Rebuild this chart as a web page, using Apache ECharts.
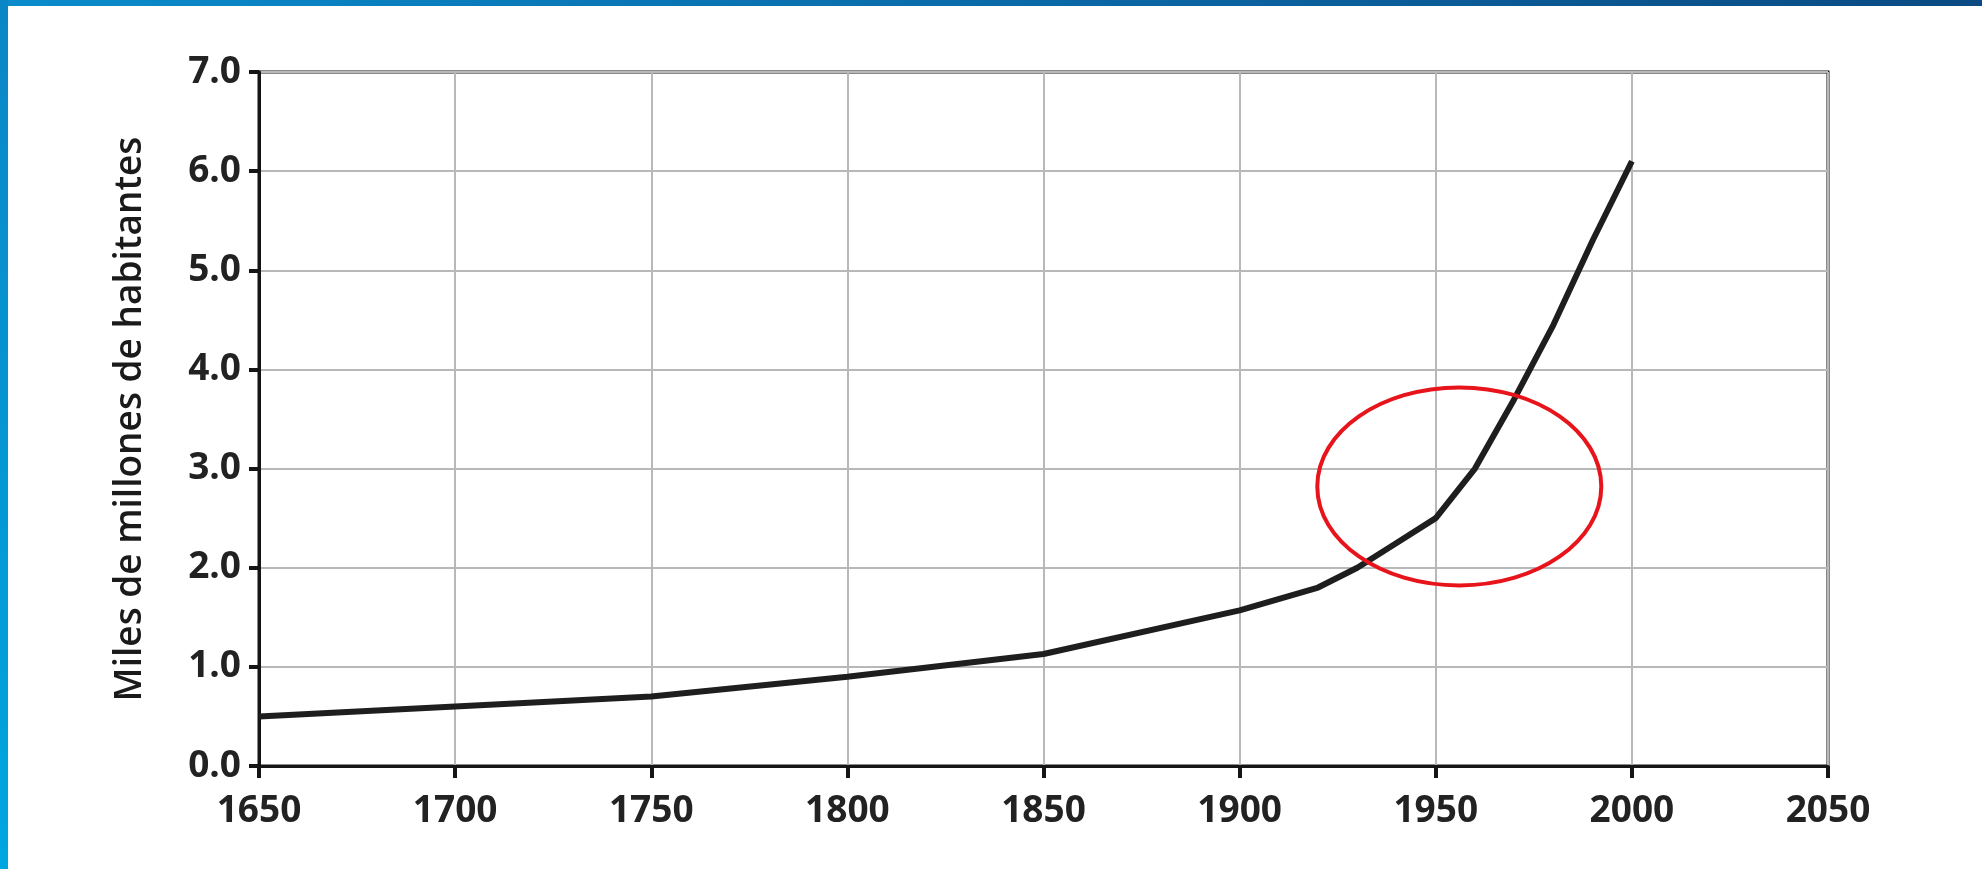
<!DOCTYPE html>
<html>
<head>
<meta charset="utf-8">
<script src="https://cdn.jsdelivr.net/npm/echarts@6/dist/echarts.min.js"></script>
<style>
html,body{margin:0;padding:0;background:#fff;}
#frameTop{position:absolute;left:0;top:0;width:1982px;height:6px;background:linear-gradient(90deg,#0a8ccc,#0a6aa8 50%,#0b4a82);}
#frameLeft{position:absolute;left:0;top:0;width:8px;height:869px;background:linear-gradient(180deg,#0a86c6,#00a6e0);}
#chart{position:absolute;left:0;top:0;width:1982px;height:869px;}
</style>
</head>
<body>
<div id="chart"></div>
<div id="frameTop"></div>
<div id="frameLeft"></div>
<script>
// Data
const years = [1650, 1700, 1750, 1800, 1850, 1900, 1920, 1930, 1940, 1950, 1960, 1970, 1980, 1990, 2000];
const population = [0.5, 0.6, 0.7, 0.9, 1.13, 1.57, 1.8, 2.0, 2.25, 2.5, 3.0, 3.7, 4.45, 5.3, 6.1];
const yAxisName = 'Miles de millones de habitantes';
const highlightCenter = [1956, 2.82];

const chart = echarts.init(document.getElementById('chart'));
const labelFont = {fontFamily: 'Open Sans', fontWeight: 'bold', fontSize: 37, color: '#222'};
chart.setOption({
  animation: false,
  backgroundColor: '#fff',
  grid: {left: 259, right: 154, top: 72, bottom: 103, show: true, borderColor: '#151515', borderWidth: 3, backgroundColor: 'transparent'},
  xAxis: {
    type: 'value', min: 1650, max: 2050, interval: 50,
    axisLine: {show: true, lineStyle: {color: '#151515', width: 3}},
    axisTick: {show: true, inside: false, length: 12, lineStyle: {color: '#151515', width: 4}},
    axisLabel: Object.assign({margin: 27, formatter: v => String(v)}, labelFont),
    splitLine: {show: true, lineStyle: {color: '#b8b8b8', width: 2}}
  },
  yAxis: {
    type: 'value', min: 0, max: 7, interval: 1,
    name: yAxisName, nameLocation: 'middle', nameGap: 110, nameRotate: 90,
    nameTextStyle: {fontFamily: 'Open Sans', fontWeight: 600, fontSize: 37, color: '#1a1a1a'},
    axisLine: {show: true, lineStyle: {color: '#151515', width: 3}},
    axisTick: {show: true, inside: false, length: 10, lineStyle: {color: '#151515', width: 4}},
    axisLabel: Object.assign({margin: 18, formatter: v => v.toFixed(1)}, labelFont),
    splitLine: {show: true, lineStyle: {color: '#b8b8b8', width: 2}}
  },
  series: [{
    type: 'line',
    data: years.map((y, i) => [y, population[i]]),
    showSymbol: false,
    smooth: false,
    lineStyle: {color: '#1e1e1e', width: 6}
  }]
});
const c = chart.convertToPixel({gridIndex: 0}, highlightCenter);
chart.setOption({
  graphic: [{
    type: 'ellipse',
    shape: {cx: c[0], cy: c[1], rx: 142, ry: 99},
    style: {fill: 'none', stroke: '#e8141b', lineWidth: 4},
    z: 100
  }]
});
</script>
</body>
</html>
